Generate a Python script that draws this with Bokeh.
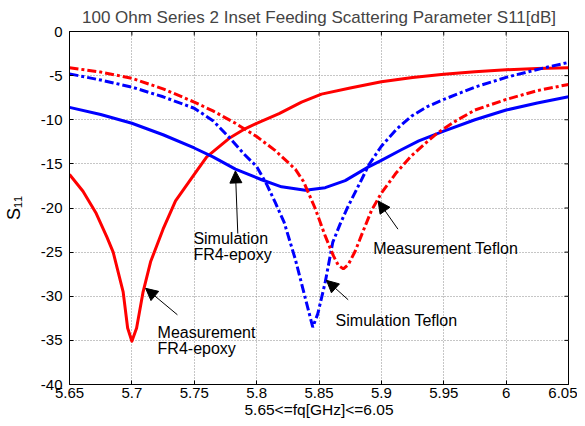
import math
from bokeh.plotting import figure
from bokeh.models import Arrow, NormalHead, FixedTicker, Range1d, Label
from bokeh.embed import file_html
from bokeh.resources import INLINE

# ---------------- data ----------------
meas_fr4_f = [5.65, 5.6608, 5.671, 5.68, 5.685, 5.693, 5.6966, 5.70, 5.7038, 5.709, 5.715,
              5.725, 5.735, 5.75, 5.76, 5.778, 5.791, 5.80, 5.818, 5.836, 5.852, 5.875,
              5.90, 5.925, 5.95, 5.975, 6.0, 6.025, 6.05]
meas_fr4_s = [-16.2, -18.1, -20.5, -23.3, -25.0, -29.5, -33.6, -35.1, -33.6, -29.5, -26.1,
              -22.4, -19.2, -16.2, -14.2, -12.1, -11.0, -10.4, -9.3, -8.0, -7.1, -6.4,
              -5.7, -5.2, -4.85, -4.55, -4.33, -4.2, -4.1]

sim_fr4_f = [5.65, 5.675, 5.70, 5.725, 5.75, 5.765, 5.783, 5.804, 5.82, 5.839, 5.855,
             5.871, 5.889, 5.90, 5.916, 5.93, 5.95, 5.975, 6.0, 6.025, 6.05]
sim_fr4_s = [-8.6, -9.4, -10.4, -11.7, -13.2, -14.2, -15.6, -16.8, -17.6, -18.0, -17.7,
             -16.9, -15.4, -14.6, -13.4, -12.4, -11.3, -10.0, -8.9, -8.1, -7.4]

sim_tef_f = [5.65, 5.675, 5.70, 5.725, 5.75, 5.765, 5.778, 5.79, 5.80, 5.808, 5.815,
             5.822, 5.831, 5.839, 5.845, 5.849, 5.855, 5.861, 5.867, 5.873, 5.883,
             5.890, 5.90, 5.912, 5.924, 5.937, 5.95, 5.975, 6.0, 6.025, 6.05]
sim_tef_s = [-4.8, -5.5, -6.3, -7.4, -8.7, -10.1, -12.0, -13.9, -15.3, -17.3, -19.4,
             -21.6, -25.8, -30.2, -33.5, -32.0, -28.4, -23.9, -21.8, -19.9, -17.1,
             -15.1, -13.0, -11.1, -9.6, -8.5, -7.7, -6.3, -5.2, -4.3, -3.5]

meas_tef_f = [5.65, 5.675, 5.70, 5.725, 5.75, 5.765, 5.783, 5.80, 5.815, 5.831, 5.8376,
              5.8468, 5.8548, 5.8615, 5.8655, 5.8695, 5.8735, 5.879, 5.884, 5.892, 5.90,
              5.912, 5.924, 5.935, 5.945, 5.96, 5.975, 6.0, 6.025, 6.05]
meas_tef_s = [-4.1, -4.6, -5.3, -6.5, -8.0, -9.0, -10.4, -11.9, -13.5, -15.6, -17.0,
              -20.0, -23.1, -25.4, -26.5, -26.9, -26.4, -24.9, -23.1, -20.3, -18.3,
              -16.0, -14.1, -12.7, -11.5, -10.1, -8.9, -7.7, -6.7, -6.0]

x_tick_labels = ["5.65", "5.7", "5.75", "5.8", "5.85", "5.9", "5.95", "6", "6.05"]
y_tick_labels = ["-40", "-35", "-30", "-25", "-20", "-15", "-10", "-5", "0"]

title_text = "100 Ohm Series 2 Inset Feeding Scattering Parameter S11[dB]"
x_label_text = "5.65<=fq[GHz]<=6.05"
y_label_text = "S\u2081\u2081"

# annotations: text lines (x, y, text) and arrows (tail x, tail y, head x, head y)
note_texts = [
    (5.7493, -23.5, "Simulation"), (5.7493, -25.25, "FR4-epoxy"),
    (5.7206, -34.16, "Measurement"), (5.7206, -35.9, "FR4-epoxy"),
    (5.8934, -24.6, "Measurement Teflon"),
    (5.8633, -32.75, "Simulation Teflon"),
]
note_arrows = [
    (5.7849, -22.9, 5.7830, -15.8),
    (5.7365, -32.1, 5.7110, -29.1),
    (5.8734, -30.4, 5.8560, -28.2),
    (5.9133, -22.4, 5.8974, -19.2),
]

FONT = "Liberation Sans"
x_ticks = [float(s) for s in x_tick_labels]
y_ticks = [float(s) for s in y_tick_labels]

p = figure(width=577, height=426, output_backend="svg", toolbar_location=None,
           x_range=Range1d(x_ticks[0], x_ticks[-1]), y_range=Range1d(y_ticks[0], y_ticks[-1]),
           min_border_left=65, min_border_right=9, min_border_top=28, min_border_bottom=42,
           background_fill_color="white", border_fill_color="white")

p.title.text = title_text
p.title.text_font = FONT
p.title.text_font_size = "17px"
p.title.text_font_style = "normal"
p.title.align = "center"
p.title.standoff = 10
p.title.offset = 0

p.outline_line_color = "black"
p.outline_line_width = 1

for ax in (p.xaxis[0], p.yaxis[0]):
    ax.major_tick_in = 4
    ax.major_tick_out = 0
    ax.minor_tick_in = 0
    ax.minor_tick_out = 0
    ax.axis_line_color = "black"
    ax.major_tick_line_color = "black"
    ax.major_label_text_font = FONT
    ax.major_label_text_font_size = "15px"
    ax.major_label_text_color = "black"
    ax.axis_label_text_font = FONT
    ax.axis_label_text_font_style = "normal"
    ax.axis_label_text_color = "black"

p.xaxis[0].ticker = FixedTicker(ticks=x_ticks)
p.xaxis[0].major_label_overrides = dict(zip(x_ticks, x_tick_labels))
p.xaxis[0].major_label_standoff = 3
p.xaxis[0].axis_label = x_label_text
p.xaxis[0].axis_label_text_font_size = "15.5px"
p.xaxis[0].axis_label_standoff = 0

p.yaxis[0].ticker = FixedTicker(ticks=y_ticks)
p.yaxis[0].major_label_overrides = dict(zip(y_ticks, y_tick_labels))
p.yaxis[0].major_label_standoff = 7
p.yaxis[0].axis_label = y_label_text
p.yaxis[0].axis_label_text_font_size = "18px"
p.yaxis[0].axis_label_standoff = 14

p.xgrid.ticker = FixedTicker(ticks=x_ticks)
p.ygrid.ticker = FixedTicker(ticks=y_ticks)
for g in (p.xgrid[0], p.ygrid[0]):
    g.grid_line_color = "#8c8c8c"
    g.grid_line_dash = "1 2"
    g.grid_line_width = 1

# inward box ticks on top and right edges (MATLAB style), at the tick values
tick_len_y = 0.45
tick_len_x = 0.0032
p.segment(x0=x_ticks, y0=[y_ticks[-1]] * len(x_ticks), x1=x_ticks,
          y1=[y_ticks[-1] - tick_len_y] * len(x_ticks), line_color="black", line_width=1)
p.segment(x0=[x_ticks[-1]] * len(y_ticks), y0=y_ticks, x1=[x_ticks[-1] - tick_len_x] * len(y_ticks),
          y1=y_ticks, line_color="black", line_width=1)

LW = 3
p.line(meas_fr4_f, meas_fr4_s, line_color="#ff0000", line_width=LW, line_join="round")
p.line(sim_fr4_f, sim_fr4_s, line_color="#0000ff", line_width=LW, line_join="round")
p.line(sim_tef_f, sim_tef_s, line_color="#0000ff", line_width=LW, line_dash="9 3 3 3")
p.line(meas_tef_f, meas_tef_s, line_color="#ff0000", line_width=LW, line_dash="9 3 3 3")

for (xs, ys, xe, ye) in note_arrows:
    p.add_layout(Arrow(x_start=xs, y_start=ys, x_end=xe, y_end=ye, line_width=1,
                       line_color="black",
                       end=NormalHead(size=12, fill_color="black", line_color="black")))

for (tx, ty, t) in note_texts:
    p.add_layout(Label(x=tx, y=ty, text=t, text_font=FONT, text_font_size="16px",
                       text_color="black", text_align="left", text_baseline="alphabetic"))

open("out.html", "w").write(file_html(p, INLINE))
